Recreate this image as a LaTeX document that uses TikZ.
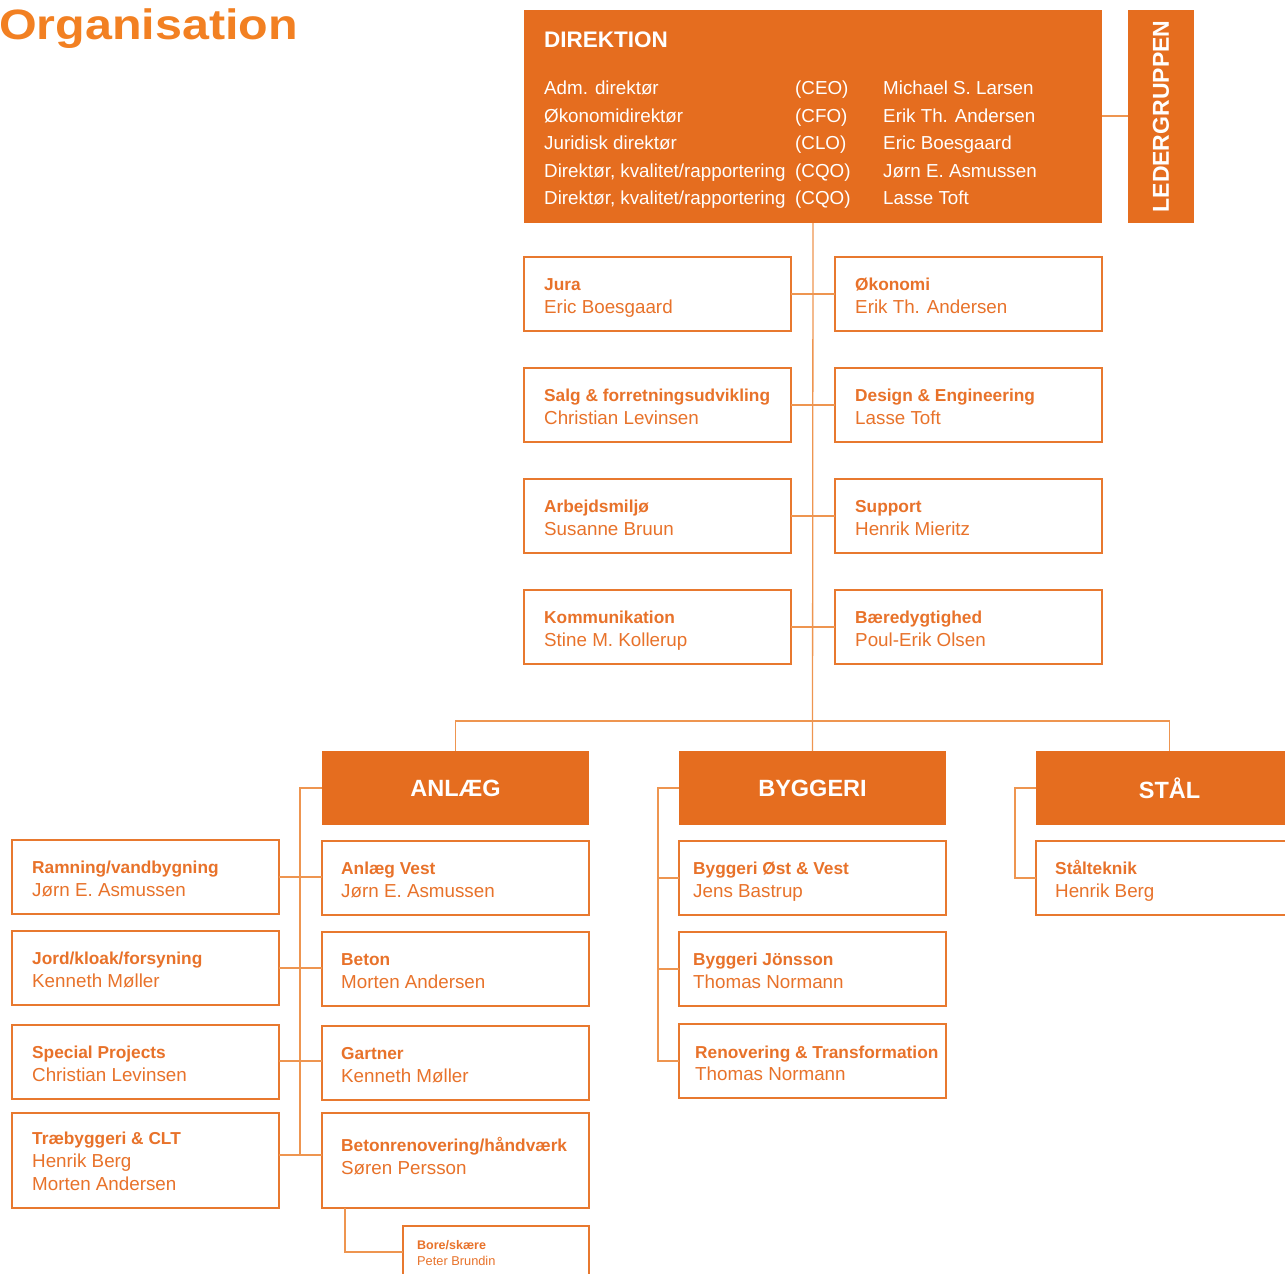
\documentclass[tikz,border=0pt]{standalone}
\usepackage{fontspec}
\setmainfont{Liberation Sans}
\usetikzlibrary{calc}
\definecolor{ofill}{HTML}{E56D1F}
\definecolor{tcol}{HTML}{F28022}
\definecolor{otext}{HTML}{E8722A}
\definecolor{boxline}{HTML}{E8792F}
\definecolor{cline}{HTML}{EE9550}
\tikzset{
  ubox/.style={draw=boxline, line width=1.4pt, inner sep=0pt, outer sep=0pt, fill=white, anchor=north west},
  obox/.style={fill=ofill, inner sep=0pt, outer sep=0pt, anchor=north west},
  htext/.style={text=white, inner sep=0pt, font=\bfseries\fontsize{23.5}{28}\selectfont},
  btitle/.style={anchor=base west, inner sep=0pt, text=otext, font=\bfseries\fontsize{17.3}{20}\selectfont},
  bname/.style={anchor=base west, inner sep=0pt, text=otext, font=\fontsize{18.8}{22}\selectfont},
  dtext/.style={anchor=base west, inner sep=0pt, text=white, font=\fontsize{18.8}{22}\selectfont},
  conn/.style={draw=cline, line width=1.3pt},
}
\def\txoff{20}
\def\tyoff{33}
\newcommand{\unitbox}[7]{%
  \node[ubox, minimum width=#4pt, minimum height=#5pt] (#1) at (#2,#3) {};
  \node[btitle] (#1t) at ($(#1.north west)+(\txoff,\tyoff)$) {#6};
  \node[bname] (#1n) at ($(#1.north west)+(\txoff,\tyoff+23)$) {#7};
}
\begin{document}
\begin{tikzpicture}[x=1pt,y=-1pt]
\useasboundingbox (0,0) rectangle (1285,1274);
\clip (0,0) rectangle (1285,1274);

% title
\node[anchor=base west, inner sep=0pt, text=tcol, xscale=1.14, font=\bfseries\fontsize{42.5}{50}\selectfont] (title) at (-1,39.5) {Organisation};

% Direktion
\node[obox, minimum width=578pt, minimum height=213pt] (dir) at (524,10) {};
\node[anchor=base west, inner sep=0pt, text=white, font=\bfseries\fontsize{22.5}{26}\selectfont] (dirt) at (544,47) {DIREKTION};
\node[dtext] (r1a) at (544,94) {Adm. direktør};
\node[dtext] (r1b) at (795,94) {(CEO)};
\node[dtext] (r1c) at (883,94) {Michael S. Larsen};
\node[dtext] (r2a) at (544,122) {Økonomidirektør};
\node[dtext] (r2b) at (795,122) {(CFO)};
\node[dtext] (r2c) at (883,122) {Erik Th. Andersen};
\node[dtext] (r3a) at (544,149) {Juridisk direktør};
\node[dtext] (r3b) at (795,149) {(CLO)};
\node[dtext] (r3c) at (883,149) {Eric Boesgaard};
\node[dtext] (r4a) at (544,177) {Direktør, kvalitet/rapportering};
\node[dtext] (r4b) at (795,177) {(CQO)};
\node[dtext] (r4c) at (883,177) {Jørn E. Asmussen};
\node[dtext] (r5a) at (544,204) {Direktør, kvalitet/rapportering};
\node[dtext] (r5b) at (795,204) {(CQO)};
\node[dtext] (r5c) at (883,204) {Lasse Toft};

% Ledergruppen
\node[obox, minimum width=66pt, minimum height=213pt] (led) at (1128,10) {};
\node[text=white, inner sep=0pt, rotate=90, font=\bfseries\fontsize{23}{27}\selectfont] (ledt) at (led.center) {LEDERGRUPPEN};
\coordinate (lj) at (1115,116);
\draw[conn] (dir.east |- lj) -- (led.west |- lj);

% staff boxes
\unitbox{jura}{524}{257}{267}{74}{Jura}{Eric Boesgaard}
\unitbox{okon}{835}{257}{267}{74}{Økonomi}{Erik Th. Andersen}
\unitbox{salg}{524}{368}{267}{74}{Salg \& forretningsudvikling}{Christian Levinsen}
\unitbox{design}{835}{368}{267}{74}{Design \& Engineering}{Lasse Toft}
\unitbox{arb}{524}{479}{267}{74}{Arbejdsmiljø}{Susanne Bruun}
\unitbox{supp}{835}{479}{267}{74}{Support}{Henrik Mieritz}
\unitbox{komm}{524}{590}{267}{74}{Kommunikation}{Stine M. Kollerup}
\unitbox{baer}{835}{590}{267}{74}{Bæredygtighed}{Poul-Erik Olsen}
\draw[conn] (jura.east) -- (okon.west);
\draw[conn] (salg.east) -- (design.west);
\draw[conn] (arb.east) -- (supp.west);
\draw[conn] (komm.east) -- (baer.west);

% division headers
\node[obox, minimum width=267pt, minimum height=74pt] (anl) at (322,751) {};
\node[htext] (anlt) at (anl.center) {ANLÆG};
\node[obox, minimum width=267pt, minimum height=74pt] (byg) at (679,751) {};
\node[htext] (bygt) at (byg.center) {BYGGERI};
\node[obox, minimum width=267pt, minimum height=74pt] (stal) at (1036,751) {};
\node[htext] (stalt) at (stal.center) {STÅL};

% trunk
\coordinate (bar) at (813,721);
\draw[conn] (dir.south) -- (byg.north);
\draw[conn] (anl.north) -- (anl.north |- bar) -- (stal.north |- bar) -- (stal.north);

% Anlaeg
\def\txoff{19}
\unitbox{a1}{322}{841}{267}{74}{Anlæg Vest}{Jørn E. Asmussen}
\unitbox{a2}{322}{932}{267}{74}{Beton}{Morten Andersen}
\unitbox{a3}{322}{1026}{267}{74}{Gartner}{Kenneth Møller}
\def\tyoff{38}
\unitbox{a4}{322}{1113}{267}{95}{Betonrenovering/håndværk}{Søren Persson}
\def\tyoff{33}
\def\txoff{20}
\unitbox{l1}{12}{840}{267}{74}{Ramning/vandbygning}{Jørn E. Asmussen}
\unitbox{l2}{12}{931}{267}{74}{Jord/kloak/forsyning}{Kenneth Møller}
\unitbox{l3}{12}{1025}{267}{74}{Special Projects}{Christian Levinsen}
\def\tyoff{31}
\unitbox{l4}{12}{1113}{267}{95}{Træbyggeri \& CLT}{Henrik Berg}
\node[bname] (l4n2) at ($(l4.north west)+(20,77)$) {Morten Andersen};
\def\tyoff{33}

\coordinate (c1) at (300,877);
\coordinate (c2) at (300,968);
\coordinate (c3) at (300,1061);
\coordinate (c4) at (300,1155);
\draw[conn] (anl.west) -| (c4);
\draw[conn] (l1.east |- c1) -- (a1.west |- c1);
\draw[conn] (l2.east |- c2) -- (a2.west |- c2);
\draw[conn] (l3.east |- c3) -- (a3.west |- c3);
\draw[conn] (l4.east |- c4) -- (a4.west |- c4);

% Bore/skaere
\node[ubox, minimum width=186pt, minimum height=80pt] (bore) at (403,1226) {};
\node[anchor=base west, inner sep=0pt, text=otext, font=\bfseries\fontsize{12.5}{15}\selectfont] (boret) at (417,1249) {Bore/skære};
\node[anchor=base west, inner sep=0pt, text=otext, font=\fontsize{12.8}{15}\selectfont] (boren) at (417,1265) {Peter Brundin};
\coordinate (bj) at (345,1252);
\draw[conn] (a4.south -| bj) -- (bj) -- (bore.west |- bj);

% Byggeri
\def\txoff{14}
\unitbox{b1}{679}{841}{267}{74}{Byggeri Øst \& Vest}{Jens Bastrup}
\unitbox{b2}{679}{932}{267}{74}{Byggeri Jönsson}{Thomas Normann}
\node[ubox, minimum width=267pt, minimum height=74pt] (b3) at (679,1024) {};
\node[btitle] (b3t) at (695,1058) {Renovering \& Transformation};
\node[bname] (b3n) at (695,1080) {Thomas Normann};
\coordinate (bx) at (658,0);
\draw[conn] (byg.west) -| (b3.west -| bx) -- (b3.west);
\draw[conn] (b1.west -| bx) -- (b1.west);
\draw[conn] (b2.west -| bx) -- (b2.west);

% Staal
\def\txoff{19}
\unitbox{s1}{1036}{841}{267}{74}{Stålteknik}{Henrik Berg}
\coordinate (sx) at (1015,0);
\draw[conn] (stal.west) -| (s1.west -| sx) -- (s1.west);
\end{tikzpicture}
\end{document}
